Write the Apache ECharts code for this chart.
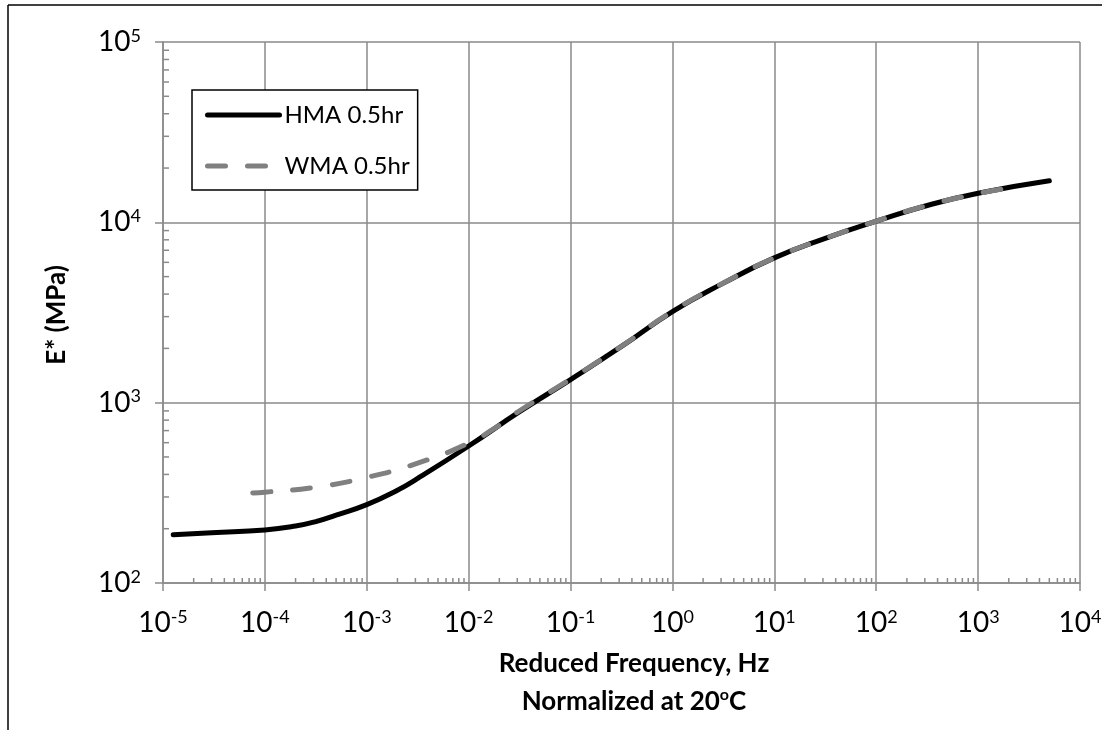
<!DOCTYPE html>
<html><head><meta charset="utf-8">
<script src="https://cdn.jsdelivr.net/npm/echarts@6/dist/echarts.min.js"></script>
<style>html,body{margin:0;padding:0;background:#fff}#c{width:1107px;height:730px}</style>
</head><body><div id="c"></div>
<script>
// Reduced frequency (Hz) and |E*| (MPa)
const freqHMA = [1.26e-5, 3e-5, 1e-4, 2e-4, 3.16e-4, 5e-4, 1e-3, 2e-3, 3.16e-3, 1e-2, 3.16e-2, 1e-1, 3.16e-1, 1, 3.16, 10, 31.6, 100, 316, 1000, 5000];
const eHMA    = [185,    190,  197,  207,  219,     238,  272,  327,  380,     575,  891,     1343, 2050,    3200, 4600, 6350, 8150, 10150, 12400, 14500, 17000];
const freqWMA = [7.6e-5, 1e-4, 3.16e-4, 1e-3, 3.16e-3, 1e-2, 2e-2, 3.16e-2, 1e-1, 3.16e-1, 1, 3.16, 10, 31.6, 100, 316, 1000, 1950];
const eWMA    = [316,    319,  340,     385,  462,     597,  750,  902,     1350, 2055,    3205, 4605, 6350, 8150, 10150, 12400, 14450, 15450];
const seriesNames = ['HMA 0.5hr', 'WMA 0.5hr'];
const xDecades = [1e-5, 1e-4, 1e-3, 1e-2, 1e-1, 1, 10, 100, 1000];
const yDecades = [100, 1000, 10000];
const minorMultipliers = [2, 3, 4, 5, 6, 7, 8, 9];
const xMin = 1e-5, xMax = 1e4, yMin = 100, yMax = 1e5;

const xMinor = [];
xDecades.forEach(d => minorMultipliers.forEach(m => xMinor.push([m * d, yMin])));
const yMinor = [];
yDecades.forEach(d => minorMultipliers.forEach(m => yMinor.push([xMin, m * d])));

const FONT = 'Lato';
const gridColor = '#8a8a8a';
const richLabel = {
  b: { fontSize: 28, fontFamily: FONT, color: '#000', lineHeight: 32 },
  s: { fontSize: 18, fontFamily: FONT, color: '#000', lineHeight: 32, verticalAlign: 'top', padding: [1, 0, 0, 0] }
};
const fmt = v => '{b|10}{s|' + Math.round(Math.log10(v)) + '}';

const chart = echarts.init(document.getElementById('c'), null, { renderer: 'canvas' });
chart.setOption({
  animation: false,
  backgroundColor: '#fff',
  grid: { left: 163, top: 42, right: 27, bottom: 147, containLabel: false },
  xAxis: {
    type: 'log', logBase: 10, min: xMin, max: xMax, splitNumber: 9,
    axisLine: { show: true, lineStyle: { color: gridColor, width: 1.5 } },
    axisTick: { show: true, inside: false, length: 8, lineStyle: { color: gridColor, width: 1.5 } },
    splitLine: { show: true, lineStyle: { color: gridColor, width: 1.5 } },
    axisLabel: { formatter: fmt, rich: richLabel, margin: 24 }
  },
  yAxis: {
    type: 'log', logBase: 10, min: yMin, max: yMax, splitNumber: 3,
    axisLine: { show: true, lineStyle: { color: gridColor, width: 1.5 } },
    axisTick: { show: true, inside: false, length: 8, lineStyle: { color: gridColor, width: 1.5 } },
    splitLine: { show: true, lineStyle: { color: gridColor, width: 1.5 } },
    axisLabel: { formatter: fmt, rich: richLabel, margin: 22 }
  },
  legend: {
    data: seriesNames,
    orient: 'vertical', left: 192, top: 90,
    padding: [13, 8, 12, 13],
    itemWidth: 72, itemHeight: 20, itemGap: 27,
    borderColor: '#000', borderWidth: 1.5, backgroundColor: '#fff',
    textStyle: { fontFamily: FONT, fontSize: 24, color: '#000', lineHeight: 24 },
    lineStyle: { width: 'inherit' },
    itemStyle: { color: 'rgba(0,0,0,0)', borderWidth: 0, opacity: 0 },
    selectedMode: false
  },
  series: [
    {
      name: seriesNames[0], type: 'line', smooth: 0.5, symbol: 'none',
      data: freqHMA.map((f, i) => [f, eHMA[i]]),
      lineStyle: { color: '#000', width: 5, cap: 'round', join: 'round' },
      itemStyle: { color: '#000' }, z: 3
    },
    {
      name: seriesNames[1], type: 'line', smooth: 0.5, symbol: 'none',
      data: freqWMA.map((f, i) => [f, eWMA[i]]),
      lineStyle: { color: '#808080', width: 5, type: [18, 22], cap: 'round', join: 'round' },
      itemStyle: { color: '#808080' }, z: 4
    },
    {
      type: 'custom', silent: true, data: xMinor, z: 2,
      renderItem: (params, api) => {
        const p = api.coord([api.value(0), api.value(1)]);
        return { type: 'line', shape: { x1: p[0], y1: p[1], x2: p[0], y2: p[1] - 5 }, style: { stroke: gridColor, lineWidth: 1.5 } };
      }
    },
    {
      type: 'custom', silent: true, data: yMinor, z: 2,
      renderItem: (params, api) => {
        const p = api.coord([api.value(0), api.value(1)]);
        return { type: 'line', shape: { x1: p[0], y1: p[1], x2: p[0] + 6, y2: p[1] }, style: { stroke: gridColor, lineWidth: 1.5 } };
      }
    }
  ],
  graphic: [
    { type: 'line', shape: { x1: 8, y1: 5, x2: 1102, y2: 5 }, style: { stroke: '#000', lineWidth: 1.5 } },
    { type: 'line', shape: { x1: 8, y1: 5, x2: 8, y2: 730 }, style: { stroke: '#000', lineWidth: 1.5 } },
    { type: 'text', x: 634, y: 664, style: { text: 'Reduced Frequency, Hz', font: 'bold 26px Lato', fill: '#000', align: 'center', verticalAlign: 'middle' } },
    { type: 'text', x: 634, y: 702, style: { text: 'Normalized at 20{sup|o}C', font: 'bold 26px Lato', fill: '#000', align: 'center', verticalAlign: 'middle',
        rich: { sup: { font: 'bold 16px Lato', verticalAlign: 'top', lineHeight: 30 } } } },
    { type: 'text', x: 57, y: 315, rotation: Math.PI / 2, style: { text: 'E* (MPa)', font: 'bold 26px Lato', fill: '#000', align: 'center', verticalAlign: 'middle' } }
  ]
});
</script></body></html>
